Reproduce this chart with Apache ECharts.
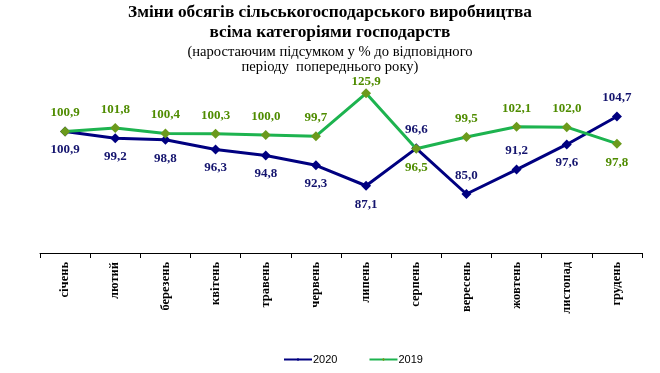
<!DOCTYPE html>
<html><head><meta charset="utf-8">
<script src="https://cdn.jsdelivr.net/npm/echarts@6/dist/echarts.min.js"></script>
<style>html,body{margin:0;padding:0;background:#fff}#c{width:660px;height:373px}</style>
</head><body><div id="c"></div>
<script>
var categories = ['січень','лютий','березень','квітень','травень','червень','липень','серпень','вересень','жовтень','листопад','грудень'];
var values2020 = [100.9, 99.2, 98.8, 96.3, 94.8, 92.3, 87.1, 96.6, 85.0, 91.2, 97.6, 104.7];
var labels2020 = ['100,9','99,2','98,8','96,3','94,8','92,3','87,1','96,6','85,0','91,2','97,6','104,7'];
var labelPos2020 = ['bottom','bottom','bottom','bottom','bottom','bottom','bottom','top','top','top','bottom','top'];
// plotted positions (July point sits lower than its label value)
var values2019 = [100.9, 101.8, 100.4, 100.3, 100.0, 99.7, 110.6, 96.5, 99.5, 102.1, 102.0, 97.8];
var labels2019 = ['100,9','101,8','100,4','100,3','100,0','99,7','125,9','96,5','99,5','102,1','102,0','97,8'];
var labelPos2019 = ['top','top','top','top','top','top','top','bottom','top','top','top','bottom'];
var labelDist2019 = [7,7,7,7,7,7,0,7,7,7,7,7];

var serif = '"Liberation Serif","Times New Roman",serif';
function mk(vals, labs, pos, col, dist) {
  return vals.map(function(v, i){
    return {value: v, label: {position: pos[i], formatter: labs[i], color: col, distance: dist ? dist[i] : 7}};
  });
}
var chart = echarts.init(document.getElementById('c'));
chart.setOption({
  animation: false,
  title: [
    {text: 'Зміни обсягів сільськогосподарського виробництва\nвсіма категоріями господарств', left: 'center', top: 3, padding: 0,
     textStyle: {fontFamily: serif, fontSize: 17.3, fontWeight: 'bold', color: '#000', lineHeight: 20}},
    {text: '(наростаючим підсумком у % до відповідного\nперіоду  попереднього року)', left: 'center', top: 45, padding: 0,
     textStyle: {fontFamily: serif, fontSize: 14.6, fontWeight: 'normal', color: '#000', lineHeight: 15}}
  ],
  legend: {
    top: 349, left: 278, itemWidth: 28, itemHeight: 4, itemGap: 31,
    textStyle: {fontFamily: '"Liberation Sans",Arial,sans-serif', fontSize: 11, color: '#000', padding: [0,0,0,-4]},
    data: ['2020','2019']
  },
  grid: {left: 40, right: 18, top: 17, bottom: 120},
  xAxis: {
    type: 'category', data: categories, boundaryGap: true,
    axisLine: {lineStyle: {color: '#000', width: 1}},
    axisTick: {show: true, alignWithLabel: false, length: 5, lineStyle: {color: '#000'}},
    axisLabel: {rotate: 90, interval: 0, margin: 9, fontFamily: serif, fontSize: 12.5, fontWeight: 'bold', color: '#000'}
  },
  yAxis: {type: 'value', min: 70, max: 130, show: false, splitLine: {show: false}},
  series: [
    {name: '2020', type: 'line', data: mk(values2020, labels2020, labelPos2020, '#14146e'),
     symbol: 'diamond', symbolSize: 10, z: 2,
     lineStyle: {color: '#000080', width: 3}, itemStyle: {color: '#000080'},
     label: {show: true, distance: 7, fontFamily: serif, fontSize: 13, fontWeight: 'bold'}},
    {name: '2019', type: 'line', data: mk(values2019, labels2019, labelPos2019, '#4f8c00', labelDist2019),
     symbol: 'diamond', symbolSize: 10, z: 3,
     lineStyle: {color: '#1db34f', width: 3}, itemStyle: {color: '#6b9a1c'},
     label: {show: true, distance: 7, fontFamily: serif, fontSize: 13, fontWeight: 'bold'}}
  ]
});
</script></body></html>
